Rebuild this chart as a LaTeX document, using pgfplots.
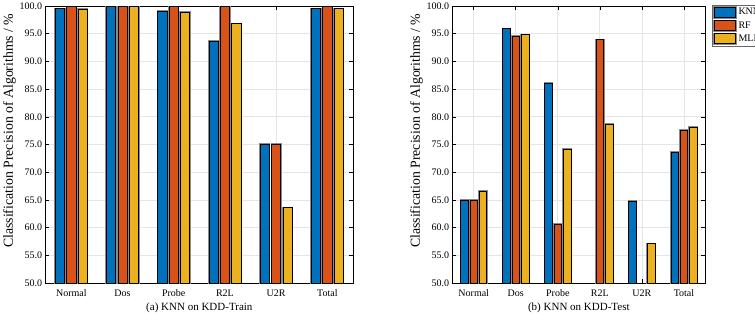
\documentclass[border=0pt]{standalone}
\usepackage{fontspec}
\setmainfont{Liberation Serif}
\usepackage{pgfplots}
\pgfplotsset{compat=1.18}
\definecolor{cknn}{rgb}{0,0.447,0.741}
\definecolor{crf}{rgb}{0.85,0.325,0.098}
\definecolor{cmlp}{rgb}{0.929,0.694,0.125}
\pgfplotsset{
  mybar/.style={fill=#1, draw=black, line width=0.7pt,
    preaction={draw=black!45, line width=2.2pt}},
  common/.style={
    scale only axis, height=277pt,
    ybar, bar width=0.178,
    ymin=50, ymax=100, ytick distance=5,
    xmin=-0.5, xmax=5.5, xtick={0,...,5},
    xticklabels={Normal,Dos,Probe,R2L,U2R,Total},
    xmajorgrids, ymajorgrids,
    grid style={black!10, line width=0.8pt},
    axis line style={black, line width=0.8pt},
    tick align=inside, major tick length=3.5pt,
    tick style={black, line width=0.6pt},
    xtick pos=both, ytick pos=both,
    yticklabel style={/pgf/number format/.cd, fixed, fixed zerofill, precision=1, assume math mode=true},
    ticklabel style={font=\fontsize{10}{12}\selectfont},
    xticklabel style={yshift=-3pt},
    xlabel style={font=\fontsize{11}{13}\selectfont, yshift=1pt},
    ylabel style={font=\fontsize{13.8}{15}\selectfont, at={(ticklabel cs:0.55)}, yshift=-3pt},
    ylabel={Classification Precision of Algorithms / \%},
    clip=true,
  },
}
\begin{document}
\begin{tikzpicture}[x=1pt,y=1pt]
\path[use as bounding box] (0,0) rectangle (755,324);
\begin{axis}[common, width=307.3pt, at={(45.7pt,41pt)}, anchor=south west,
  xlabel={(a) KNN on KDD-Train}]
\addplot[mybar=cknn, bar shift=-0.222] coordinates {(0,99.5) (1,100) (2,99.0) (3,93.6) (4,75.0) (5,99.5)};
\addplot[mybar=crf, bar shift=0] coordinates {(0,100) (1,100) (2,100) (3,100) (4,75.0) (5,100)};
\addplot[mybar=cmlp, bar shift=0.222] coordinates {(0,99.4) (1,100) (2,98.9) (3,96.8) (4,63.6) (5,99.5)};
\end{axis}
\begin{axis}[common, width=252.3pt, at={(452.7pt,41pt)}, anchor=south west,
  xlabel={(b) KNN on KDD-Test},
  legend style={at={(1,1)}, anchor=north west, xshift=7pt, yshift=1pt,
    draw=black!60, line width=0.6pt, inner xsep=1pt, inner ysep=1pt, row sep=1pt,
    font=\fontsize{10}{12}\selectfont,
    /tikz/every even column/.append style={column sep=0pt}},
  legend cell align=left,
  legend image code/.code={\draw[#1, line width=0.7pt] (0pt,-5pt) rectangle (21pt,5pt);}]
\addplot[mybar=cknn, bar shift=-0.222] coordinates {(0,65.0) (1,95.9) (2,86.0) (4,64.7) (5,73.6)};
\addplot[mybar=crf, bar shift=0] coordinates {(0,65.0) (1,94.6) (2,60.6) (3,93.9) (5,77.6)};
\addplot[mybar=cmlp, bar shift=0.222] coordinates {(0,66.6) (1,94.8) (2,74.1) (3,78.7) (4,57.1) (5,78.1)};
\legend{KNN,RF,MLP}
\end{axis}
\end{tikzpicture}
\end{document}
